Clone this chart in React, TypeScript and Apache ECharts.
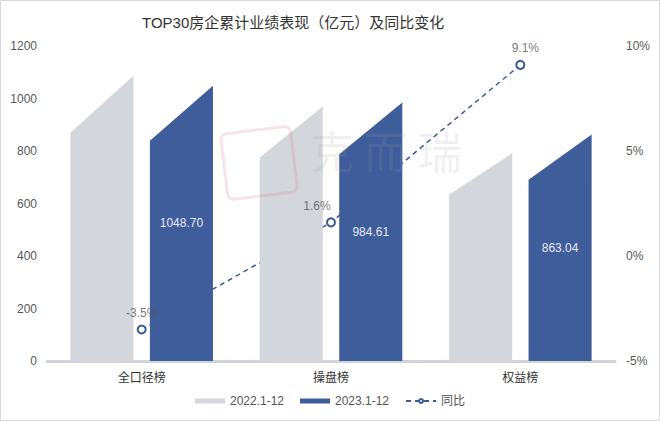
import React, { useEffect, useRef } from "react";
import * as echarts from "echarts";

const categories = ["全口径榜", "操盘榜", "权益榜"];
const values2022 = [1086.7, 969.1, 791.1];
const values2023 = [1048.7, 984.61, 863.04];
const yoy = [-3.5, 1.6, 9.1];
const legendNames = ["2022.1-12", "2023.1-12", "同比"];
const titleText = "TOP30房企累计业绩表现（亿元）及同比变化";

const GRAY = "#d3d6db";
const BLUE = "#3f5d9b";
const LINE = "#3d5a98";
const FONT = "'Liberation Sans', 'Noto Sans CJK SC', sans-serif";

function makeRenderItem(offsetRatio: number, color: string, showLabel: boolean) {
  return (params: any, api: any) => {
    const idx = api.value(0);
    const v = api.value(1);
    const band = api.size([1, 0])[0];
    const w = band * 0.333;
    const center = api.coord([idx, 0]);
    const cx = center[0] + band * offsetRatio;
    const yBase = center[1];
    const yLeft = api.coord([idx, v * 0.8])[1];
    const yRight = api.coord([idx, v])[1];
    const x0 = cx - w / 2;
    const x1 = cx + w / 2;
    const children: any[] = [
      {
        type: "polygon",
        shape: { points: [[x0, yBase], [x0, yLeft], [x1, yRight], [x1, yBase]] },
        style: { fill: color },
      },
    ];
    if (showLabel) {
      children.push({
        type: "text",
        x: cx,
        y: (yBase + yRight) / 2,
        style: {
          text: v.toFixed(2),
          fill: "#e4e9f3",
          font: `12px ${FONT}`,
          align: "center",
          verticalAlign: "middle",
        },
      });
    }
    return { type: "group", children };
  };
}

const lineLabelOffsets = [[0, 0], [-14, 0], [5, 0]];

export default function App() {
  const ref = useRef<HTMLDivElement>(null);
  useEffect(() => {
    document.body.style.margin = "0";
    if (!ref.current) return;
    const chart = echarts.init(ref.current, undefined, { renderer: "svg" });
    chart.setOption({
      animation: false,
      backgroundColor: "#ffffff",
      textStyle: { fontFamily: FONT },
      title: {
        text: titleText,
        left: 137,
        top: 10,
        textStyle: { fontSize: 15, fontWeight: "normal", color: "#333333", fontFamily: FONT },
      },
      graphic: [
        {
          type: "rect",
          shape: { x: 0.5, y: 0.5, width: 659, height: 420 },
          style: { fill: "none", stroke: "#d9d9d9", lineWidth: 1 },
          silent: true,
          z: 100,
        },
        {
          type: "text",
          left: 310,
          top: 128,
          style: {
            text: "克 而 瑞",
            fill: "rgba(160,160,160,0.16)",
            font: `44px 'Noto Sans CJK SC', sans-serif`,
          },
          silent: true,
          z: 100,
        },
        {
          type: "rect",
          shape: { x: 224, y: 130, width: 70, height: 66, r: 6 },
          rotation: 0.12,
          originX: 259,
          originY: 163,
          style: { fill: "none", stroke: "rgba(220,120,130,0.2)", lineWidth: 3 },
          silent: true,
          z: 100,
        },
      ],
      legend: {
        bottom: 9,
        left: "center",
        itemWidth: 30,
        itemHeight: 5,
        itemGap: 16,
        textStyle: { color: "#555555", fontSize: 12, fontFamily: FONT },
        data: [
          { name: legendNames[0], icon: "rect", itemStyle: { color: GRAY } },
          { name: legendNames[1], icon: "rect", itemStyle: { color: BLUE } },
          { name: legendNames[2] },
        ],
      },
      grid: { left: 47, right: 45, top: 46, bottom: 60 },
      xAxis: {
        type: "category",
        data: categories,
        axisLine: { lineStyle: { color: "#d0d3d9", width: 3 } },
        axisTick: { show: false },
        axisLabel: { color: "#333333", fontSize: 12, margin: 11 },
      },
      yAxis: [
        {
          type: "value",
          min: 0,
          max: 1200,
          interval: 200,
          axisLine: { show: false },
          axisTick: { show: false },
          splitLine: { show: false },
          axisLabel: { color: "#595959", fontSize: 12, margin: 10, formatter: (v: number) => String(v) },
        },
        {
          type: "value",
          min: -5,
          max: 10,
          interval: 5,
          axisLine: { show: false },
          axisTick: { show: false },
          splitLine: { show: false },
          axisLabel: { color: "#595959", fontSize: 12, margin: 11, formatter: "{value}%" },
        },
      ],
      series: [
        {
          name: legendNames[2],
          type: "line",
          yAxisIndex: 1,
          z: 1,
          data: yoy,
          symbol: "emptyCircle",
          symbolSize: 8,
          lineStyle: { color: LINE, width: 1.5, type: [5, 4] },
          itemStyle: { color: LINE, borderWidth: 2 },
        },
        {
          name: "yoyLabels",
          type: "scatter",
          yAxisIndex: 1,
          z: 10,
          silent: true,
          symbol: "circle",
          symbolSize: 1,
          itemStyle: { color: "rgba(0,0,0,0)" },
          data: yoy.map((v, i) => ({
            value: [i, v],
            label: { offset: lineLabelOffsets[i] },
          })),
          label: {
            show: true,
            position: "top",
            distance: 10,
            color: "#555555",
            fontSize: 12,
            formatter: (p: any) => `${p.value[1].toFixed(1)}%`,
          },
        },
        {
          name: legendNames[0],
          type: "custom",
          z: 3,
          itemStyle: { color: GRAY },
          renderItem: makeRenderItem(-0.21, GRAY, false),
          encode: { x: 0, y: 1 },
          data: values2022.map((v, i) => [i, v]),
        },
        {
          name: legendNames[1],
          type: "custom",
          z: 3,
          itemStyle: { color: BLUE },
          renderItem: makeRenderItem(0.21, BLUE, true),
          encode: { x: 0, y: 1 },
          data: values2023.map((v, i) => [i, v]),
        },
      ],
    });
    return () => chart.dispose();
  }, []);
  return <div ref={ref} style={{ width: 660, height: 421 }} />;
}
